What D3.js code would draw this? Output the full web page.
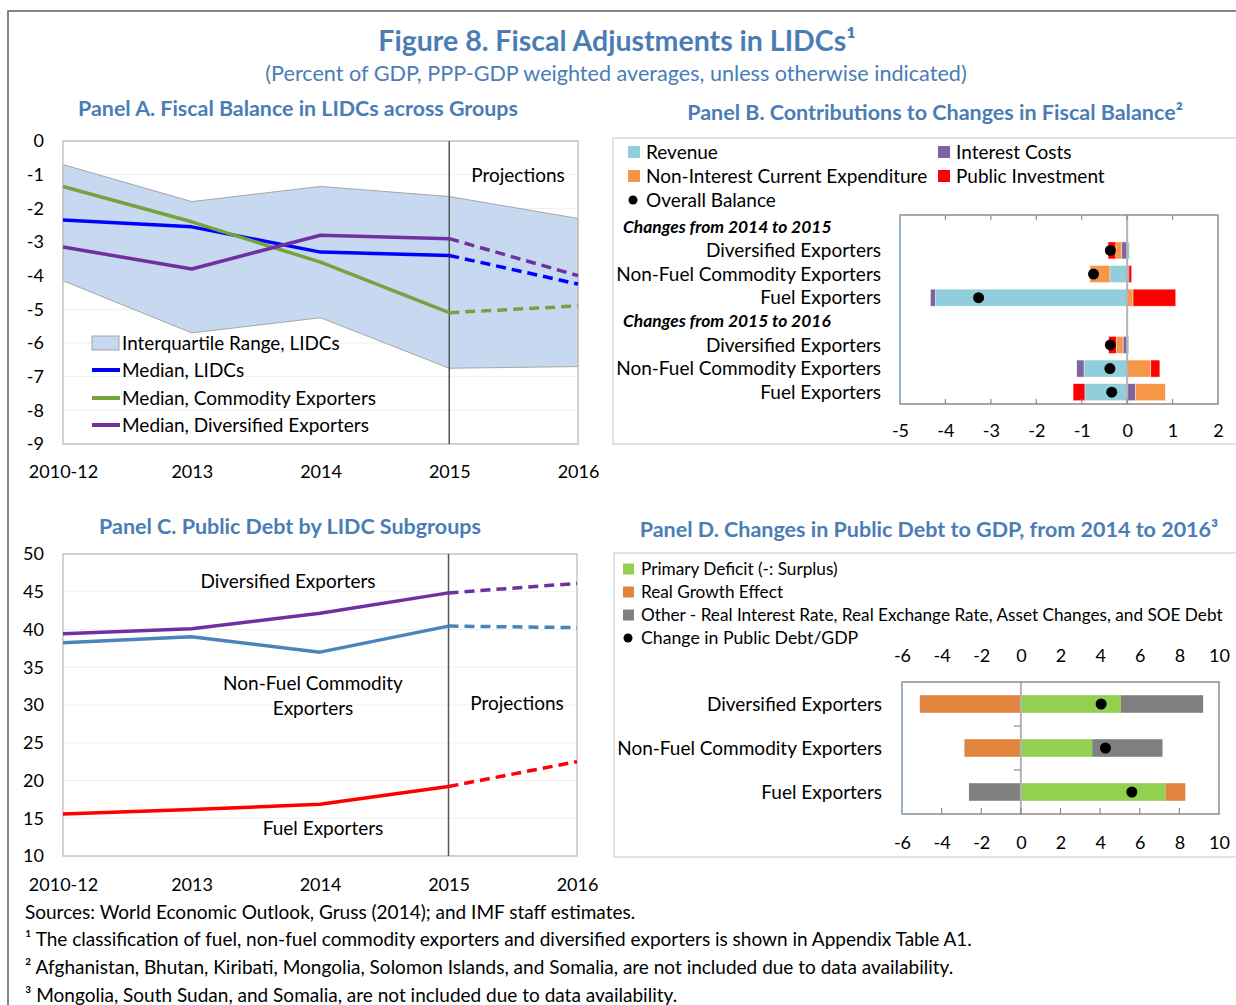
<!DOCTYPE html>
<html>
<head>
<meta charset="utf-8">
<script src="https://cdn.jsdelivr.net/npm/d3@7"></script>
<style>
  body { margin: 0; background: #fff; }
  svg { display: block; font-family: Lato, "Open Sans", sans-serif; }
</style>
</head>
<body>
<svg id="chart" width="1236" height="1005"></svg>
<script>
// ---- data ----
const years = ["2010-12", "2013", "2014", "2015", "2016"];

// panel A: fiscal balance (% of GDP)
const iqrHigh = [-0.7, -1.8, -1.35, -1.65, -2.3];
const iqrLow = [-4.15, -5.7, -5.25, -6.75, -6.7];
const medianLIDC = [-2.35, -2.55, -3.3, -3.4, -4.25];
const medianCommodity = [-1.35, -2.4, -3.6, -5.1, -4.9];
const medianDiversified = [-3.15, -3.8, -2.8, -2.9, -4.0];

// panel B: contributions to changes in fiscal balance
const groups = ["Diversified Exporters", "Non-Fuel Commodity Exporters", "Fuel Exporters"];
const periodsB = ["Changes from 2014 to 2015", "Changes from 2015 to 2016"];
const seriesB = ["Revenue", "Interest Costs", "Non-Interest Current Expenditure", "Public Investment"];
const revenueB = [0.05, -0.38, -4.22, 0.04, -0.95, -0.93];
const interestB = [-0.12, 0.04, -0.11, -0.09, -0.16, 0.18];
const nonInterestB = [-0.13, -0.44, 0.13, -0.15, 0.52, 0.66];
const investmentB = [-0.17, 0.06, 0.94, -0.17, 0.2, -0.26];
const balanceB = [-0.37, -0.74, -3.27, -0.37, -0.38, -0.34];

// panel C: public debt (% of GDP)
const debtDiversified = [39.45, 40.1, 42.15, 44.85, 46.1];
const debtNonFuel = [38.25, 39.05, 37.0, 40.45, 40.25];
const debtFuel = [15.55, 16.15, 16.85, 19.2, 22.5];

// panel D: changes in public debt, 2014-2016
const seriesD = ["Primary Deficit (-: Surplus)", "Real Growth Effect",
  "Other - Real Interest Rate, Real Exchange Rate, Asset Changes, and SOE Debt"];
const primaryD = [5.05, 3.6, 7.3];
const growthD = [-5.1, -2.85, 1.0];
const otherD = [4.15, 3.55, -2.62];
const debtChangeD = [4.05, 4.27, 5.6];

const titleBlue = "#4a7db5";
const svg = d3.select("#chart");
const plain = d => String(d); // hyphen minus like the original

function txt(g, x, y, s, size, opts = {}) {
  return g.append("text")
    .attr("x", x).attr("y", y)
    .attr("font-size", size)
    .attr("font-weight", opts.weight || "normal")
    .attr("font-style", opts.style || "normal")
    .attr("fill", opts.fill || "#000")
    .attr("text-anchor", opts.anchor || "start")
    .attr("dy", "0.35em")
    .text(s);
}

function styleAxis(a) {
  a.select(".domain").remove();
  a.selectAll("text").attr("font-size", 18).attr("font-family", "Lato, sans-serif").attr("fill", "#000");
  return a;
}

// outer frame
svg.append("path").attr("d", "M8,1005V11H1236")
  .attr("fill", "none").attr("stroke", "#5f5f5f").attr("stroke-width", 1.5);

txt(svg, 617, 41, "Figure 8. Fiscal Adjustments in LIDCs¹", 28.5, { weight: "bold", fill: titleBlue, anchor: "middle" });
txt(svg, 616, 73, "(Percent of GDP, PPP-GDP weighted averages, unless otherwise indicated)", 21.6, { fill: titleBlue, anchor: "middle" });
txt(svg, 298, 109, "Panel A. Fiscal Balance in LIDCs across Groups", 21.4, { weight: "bold", fill: titleBlue, anchor: "middle" });
txt(svg, 935, 112, "Panel B. Contributions to Changes in Fiscal Balance²", 21.5, { weight: "bold", fill: titleBlue, anchor: "middle" });
txt(svg, 290, 526, "Panel C. Public Debt by LIDC Subgroups", 21.5, { weight: "bold", fill: titleBlue, anchor: "middle" });
txt(svg, 929, 529, "Panel D. Changes in Public Debt to GDP, from 2014 to 2016³", 21.5, { weight: "bold", fill: titleBlue, anchor: "middle" });

// ---- shared line-panel drawing ----
function linePanel(g, x, y, lines) {
  lines.forEach(s => {
    const pts = years.map((yr, i) => [x(yr), y(s.values[i])]);
    const line = d3.line();
    g.append("path").attr("d", line(pts.slice(0, 4)))
      .attr("fill", "none").attr("stroke", s.color).attr("stroke-width", 3.5)
      .attr("stroke-linejoin", "round");
    g.append("path").attr("d", line(pts.slice(3)))
      .attr("fill", "none").attr("stroke", s.color).attr("stroke-width", 3.5)
      .attr("stroke-dasharray", "10,6");
  });
}

// ---- Panel A ----
{
  const g = svg.append("g");
  const x = d3.scalePoint().domain(years).range([63, 578]);
  const y = d3.scaleLinear().domain([-9, 0]).range([444, 141]);

  g.selectAll("line.grid").data(y.ticks(9)).join("line")
    .attr("x1", 63).attr("x2", 578).attr("y1", d => y(d)).attr("y2", d => y(d))
    .attr("stroke", "#efefef");

  const band = years.map((yr, i) => ({ yr, lo: iqrLow[i], hi: iqrHigh[i] }));
  g.append("path")
    .attr("d", d3.area().x(d => x(d.yr)).y0(d => y(d.lo)).y1(d => y(d.hi))(band))
    .attr("fill", "#c6d9f1").attr("stroke", "#a6a6a6").attr("stroke-width", 1);

  g.append("rect").attr("x", 63).attr("y", 141).attr("width", 515).attr("height", 303)
    .attr("fill", "none").attr("stroke", "#c4c4c4").attr("stroke-width", 1.5);

  g.append("line").attr("x1", x("2015")).attr("x2", x("2015")).attr("y1", 141).attr("y2", 444)
    .attr("stroke", "#555").attr("stroke-width", 1.5);
  txt(g, 518, 175, "Projections", 19, { anchor: "middle" });

  const linesA = [
    { name: "Median, LIDCs", values: medianLIDC, color: "#0000ff" },
    { name: "Median, Commodity Exporters", values: medianCommodity, color: "#77a33e" },
    { name: "Median, Diversified Exporters", values: medianDiversified, color: "#7030a0" }
  ];
  linePanel(g, x, y, linesA);

  styleAxis(g.append("g").attr("transform", "translate(63,0)")
    .call(d3.axisLeft(y).ticks(9).tickFormat(plain).tickSize(0).tickPadding(19)));
  styleAxis(g.append("g").attr("transform", "translate(0,444)")
    .call(d3.axisBottom(x).tickSize(0).tickPadding(21)));

  // legend
  const ly = [343, 370, 398, 425];
  g.append("rect").attr("x", 92).attr("y", ly[0] - 7).attr("width", 27).attr("height", 14)
    .attr("fill", "#c6d9f1").attr("stroke", "#a6a6a6");
  txt(g, 122, ly[0], "Interquartile Range, LIDCs", 18.9);
  linesA.forEach((s, i) => {
    g.append("line").attr("x1", 92).attr("x2", 120).attr("y1", ly[i + 1]).attr("y2", ly[i + 1])
      .attr("stroke", s.color).attr("stroke-width", 4);
    txt(g, 122, ly[i + 1], s.name, 19);
  });
}

// ---- Panel B ----
{
  const g = svg.append("g");
  g.append("rect").attr("x", 613).attr("y", 138).attr("width", 650).attr("height", 306)
    .attr("fill", "none").attr("stroke", "#d9d9d9").attr("stroke-width", 1.5);

  const colorsB = ["#92cddc", "#8064a2", "#f79646", "#ff0000"];
  const legendPos = [[628, 152], [938, 152], [628, 176], [938, 176]];
  seriesB.forEach((s, i) => {
    const [lx, lyy] = legendPos[i];
    g.append("rect").attr("x", lx).attr("y", lyy - 6).attr("width", 12).attr("height", 12).attr("fill", colorsB[i]);
    txt(g, lx + 18, lyy, s, 19);
  });
  g.append("circle").attr("cx", 633).attr("cy", 200).attr("r", 4.5).attr("fill", "#000");
  txt(g, 646, 200, "Overall Balance", 19);

  // 8 rows: period header + 3 groups, twice
  const rows = [];
  periodsB.forEach((p, pi) => {
    rows.push({ id: "h" + pi, label: p, header: true });
    groups.forEach((gr, gi) => rows.push({ id: pi + "-" + gi, label: gr, k: pi * 3 + gi }));
  });
  const y = d3.scaleBand().domain(rows.map(r => r.id)).range([215, 404])
    .paddingInner(0.28).paddingOuter(0.14);
  const x = d3.scaleLinear().domain([-5, 2]).range([900, 1218]);

  const table = rows.filter(r => !r.header).map(r => ({
    id: r.id,
    "Revenue": revenueB[r.k],
    "Interest Costs": interestB[r.k],
    "Non-Interest Current Expenditure": nonInterestB[r.k],
    "Public Investment": investmentB[r.k],
    balance: balanceB[r.k]
  }));
  const stack = d3.stack().keys(seriesB).offset(d3.stackOffsetDiverging)(table);

  stack.forEach((layer, li) => {
    g.append("g").selectAll("rect").data(layer).join("rect")
      .attr("x", d => x(Math.min(d[0], d[1])))
      .attr("width", d => Math.abs(x(d[1]) - x(d[0])))
      .attr("y", d => y(d.data.id)).attr("height", y.bandwidth())
      .attr("fill", colorsB[li]).attr("stroke", "#fff").attr("stroke-width", 0.6).attr("stroke-opacity", 0.7);
  });

  g.append("line").attr("x1", x(0)).attr("x2", x(0)).attr("y1", 215).attr("y2", 404)
    .attr("stroke", "#b3b3b3").attr("stroke-width", 2);

  g.append("g").selectAll("circle").data(table).join("circle")
    .attr("cx", d => x(d.balance)).attr("cy", d => y(d.id) + y.bandwidth() / 2)
    .attr("r", 5.5).attr("fill", "#000");

  // plot frame and inner ticks
  g.append("rect").attr("x", 900).attr("y", 215).attr("width", 318).attr("height", 189)
    .attr("fill", "none").attr("stroke", "#8c8c8c").attr("stroke-width", 1.5);
  g.append("line").attr("x1", 900).attr("x2", 900).attr("y1", 215).attr("y2", 404)
    .attr("stroke", "#95b3d7").attr("stroke-width", 1.5);
  const ticksB = x.ticks(7).filter(t => t > -5 && t < 2);
  g.selectAll("line.tt").data(ticksB).join("line")
    .attr("x1", d => x(d)).attr("x2", d => x(d)).attr("y1", 215).attr("y2", 220)
    .attr("stroke", "#8c8c8c").attr("stroke-width", 1.2);
  g.selectAll("line.bt").data(ticksB).join("line")
    .attr("x1", d => x(d)).attr("x2", d => x(d)).attr("y1", 399).attr("y2", 404)
    .attr("stroke", "#8c8c8c").attr("stroke-width", 1.2);

  styleAxis(g.append("g").attr("transform", "translate(0,404)")
    .call(d3.axisBottom(x).ticks(7).tickFormat(plain).tickSize(0).tickPadding(20)));

  rows.forEach(r => {
    const cy = y(r.id) + y.bandwidth() / 2;
    if (r.header) txt(g, 623, cy, r.label, 17.4, { weight: "bold", style: "italic" });
    else txt(g, 881, cy, r.label, 19, { anchor: "end" });
  });
}

// ---- Panel C ----
{
  const g = svg.append("g");
  const x = d3.scalePoint().domain(years).range([63, 577]);
  const y = d3.scaleLinear().domain([10, 50]).range([856, 554]);

  g.selectAll("line.grid").data(y.ticks(8)).join("line")
    .attr("x1", 63).attr("x2", 577).attr("y1", d => y(d)).attr("y2", d => y(d))
    .attr("stroke", "#f0f0f0");
  g.append("rect").attr("x", 63).attr("y", 554).attr("width", 514).attr("height", 302)
    .attr("fill", "none").attr("stroke", "#c4c4c4").attr("stroke-width", 1.5);
  g.append("line").attr("x1", x("2015")).attr("x2", x("2015")).attr("y1", 554).attr("y2", 856)
    .attr("stroke", "#555").attr("stroke-width", 1.5);

  linePanel(g, x, y, [
    { values: debtDiversified, color: "#7030a0" },
    { values: debtNonFuel, color: "#4a84b8" },
    { values: debtFuel, color: "#ff0000" }
  ]);

  txt(g, 288, 581, "Diversified Exporters", 19, { anchor: "middle" });
  txt(g, 313, 683, "Non-Fuel Commodity", 19, { anchor: "middle" });
  txt(g, 313, 708, "Exporters", 19, { anchor: "middle" });
  txt(g, 517, 703, "Projections", 19, { anchor: "middle" });
  txt(g, 323, 828, "Fuel Exporters", 19, { anchor: "middle" });

  styleAxis(g.append("g").attr("transform", "translate(63,0)")
    .call(d3.axisLeft(y).ticks(8).tickSize(0).tickPadding(19)));
  styleAxis(g.append("g").attr("transform", "translate(0,856)")
    .call(d3.axisBottom(x).tickSize(0).tickPadding(22)));
}

// ---- Panel D ----
{
  const g = svg.append("g");
  g.append("rect").attr("x", 614).attr("y", 553).attr("width", 650).attr("height", 304)
    .attr("fill", "none").attr("stroke", "#d9d9d9").attr("stroke-width", 1.5);

  const colorsD = ["#92d050", "#e0843e", "#808080"];
  const ly = [569, 592, 615, 638];
  seriesD.forEach((s, i) => {
    g.append("rect").attr("x", 623).attr("y", ly[i] - 5.5).attr("width", 11).attr("height", 11).attr("fill", colorsD[i]);
    txt(g, 641, ly[i], s, 17.2);
  });
  g.append("circle").attr("cx", 628).attr("cy", ly[3]).attr("r", 4.5).attr("fill", "#000");
  txt(g, 641, ly[3], "Change in Public Debt/GDP", 17.7);

  const x = d3.scaleLinear().domain([-6, 10]).range([902, 1219]);
  const y = d3.scaleBand().domain(groups).range([682, 814]).paddingInner(0.6).paddingOuter(0.3);

  const table = groups.map((gr, i) => ({
    group: gr,
    [seriesD[0]]: primaryD[i],
    [seriesD[1]]: growthD[i],
    [seriesD[2]]: otherD[i],
    change: debtChangeD[i]
  }));
  const stack = d3.stack().keys(seriesD).offset(d3.stackOffsetDiverging)(table);
  stack.forEach((layer, li) => {
    g.append("g").selectAll("rect").data(layer).join("rect")
      .attr("x", d => x(Math.min(d[0], d[1])))
      .attr("width", d => Math.abs(x(d[1]) - x(d[0])))
      .attr("y", d => y(d.data.group)).attr("height", y.bandwidth())
      .attr("fill", colorsD[li]);
  });

  g.append("line").attr("x1", x(0)).attr("x2", x(0)).attr("y1", 682).attr("y2", 814)
    .attr("stroke", "#b3b3b3").attr("stroke-width", 2);
  // category separators on the zero axis
  const seps = groups.slice(1).map(gr => y(gr) - y.step() * y.paddingInner() / 2);
  g.selectAll("line.sep").data(seps).join("line")
    .attr("x1", x(0) - 7).attr("x2", x(0)).attr("y1", d => d).attr("y2", d => d)
    .attr("stroke", "#8c8c8c").attr("stroke-width", 1.2);

  g.append("g").selectAll("circle").data(table).join("circle")
    .attr("cx", d => x(d.change)).attr("cy", d => y(d.group) + y.bandwidth() / 2)
    .attr("r", 5.5).attr("fill", "#000");

  g.append("rect").attr("x", 902).attr("y", 682).attr("width", 317).attr("height", 132)
    .attr("fill", "none").attr("stroke", "#8c8c8c").attr("stroke-width", 1.5);
  g.append("line").attr("x1", 902).attr("x2", 902).attr("y1", 682).attr("y2", 814)
    .attr("stroke", "#95b3d7").attr("stroke-width", 1.5);
  const ticksD = x.ticks(8).filter(t => t > -6 && t < 10);
  g.selectAll("line.bt").data(ticksD).join("line")
    .attr("x1", d => x(d)).attr("x2", d => x(d)).attr("y1", 808).attr("y2", 814)
    .attr("stroke", "#8c8c8c").attr("stroke-width", 1.2);

  styleAxis(g.append("g").attr("transform", "translate(0,682)")
    .call(d3.axisTop(x).ticks(8).tickFormat(plain).tickSize(0).tickPadding(20)));
  styleAxis(g.append("g").attr("transform", "translate(0,814)")
    .call(d3.axisBottom(x).ticks(8).tickFormat(plain).tickSize(0).tickPadding(22)));

  groups.forEach(gr => txt(g, 882, y(gr) + y.bandwidth() / 2, gr, 19, { anchor: "end" }));
}

// ---- footnotes ----
const notes = [
  "Sources: World Economic Outlook, Gruss (2014); and IMF staff estimates.",
  "¹ The classification of fuel, non-fuel commodity exporters and diversified exporters is shown in Appendix Table A1.",
  "² Afghanistan, Bhutan, Kiribati, Mongolia, Solomon Islands, and Somalia, are not included due to data availability.",
  "³ Mongolia, South Sudan, and Somalia, are not included due to data availability."
];
notes.forEach((n, i) => txt(svg, 25, 912 + i * 27.8, n, 19));
</script>
</body>
</html>
